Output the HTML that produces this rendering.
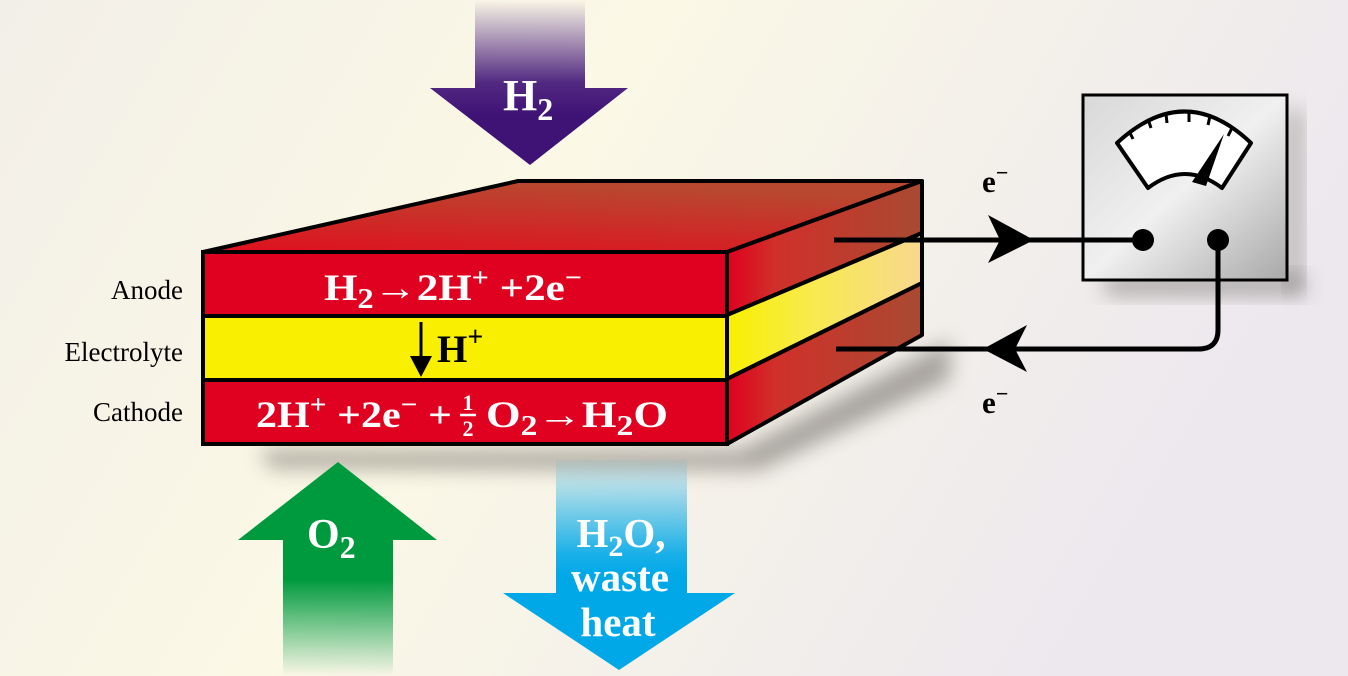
<!DOCTYPE html>
<html><head><meta charset="utf-8"><style>
html,body{margin:0;padding:0;width:1348px;height:676px;overflow:hidden}
svg{display:block}
text{font-family:"Liberation Serif",serif}
</style></head><body>
<svg width="1348" height="676" viewBox="0 0 1348 676" xmlns="http://www.w3.org/2000/svg">
<defs>
<linearGradient id="bg" x1="0" y1="0" x2="1" y2="0.3">
<stop offset="0" stop-color="#f2efe8"/><stop offset="0.45" stop-color="#fbf8e6"/><stop offset="1" stop-color="#ece8ee"/>
</linearGradient>
<linearGradient id="side" x1="0" y1="0" x2="1" y2="0">
<stop offset="0" stop-color="#e0001f"/><stop offset="0.25" stop-color="#d0302a"/><stop offset="1" stop-color="#a84a32"/>
</linearGradient>
<linearGradient id="sidey" x1="0" y1="0" x2="1" y2="0">
<stop offset="0" stop-color="#f8f000"/><stop offset="0.45" stop-color="#f8ea50"/><stop offset="1" stop-color="#f8d890"/>
</linearGradient>
<linearGradient id="top" x1="0" y1="1" x2="0.4" y2="0">
<stop offset="0" stop-color="#e0101f"/><stop offset="1" stop-color="#b84830"/>
</linearGradient>
<linearGradient id="purp" x1="0" y1="0" x2="0" y2="1">
<stop offset="0" stop-color="#3f1276" stop-opacity="0"/><stop offset="0.5" stop-color="#3f1276" stop-opacity="0.9"/><stop offset="0.7" stop-color="#3f1276"/>
</linearGradient>
<linearGradient id="grn" x1="0" y1="0" x2="0" y2="1">
<stop offset="0" stop-color="#009a3e"/><stop offset="0.55" stop-color="#009a3e"/><stop offset="1" stop-color="#009a3e" stop-opacity="0"/>
</linearGradient>
<linearGradient id="blu" x1="0" y1="0" x2="0" y2="1">
<stop offset="0" stop-color="#00a8e8" stop-opacity="0.05"/><stop offset="0.45" stop-color="#00a8e8" stop-opacity="0.9"/><stop offset="0.55" stop-color="#00a8e8"/>
</linearGradient>
<linearGradient id="meter" x1="0" y1="0" x2="1" y2="1">
<stop offset="0" stop-color="#d8d8d8"/><stop offset="0.5" stop-color="#f0f0f0"/><stop offset="1" stop-color="#a8a8a8"/>
</linearGradient>
<filter id="blur" x="-20%" y="-50%" width="140%" height="200%"><feGaussianBlur stdDeviation="10"/></filter>
</defs>
<rect width="1348" height="676" fill="url(#bg)"/>
<polygon points="260,450 740,450 950,340 950,380 760,470 270,468" fill="#6a6660" opacity="0.55" filter="url(#blur)"/>
<rect x="1105" y="275" width="200" height="20" fill="#6a6660" opacity="0.5" filter="url(#blur)"/>
<rect x="1285" y="110" width="18" height="180" fill="#6a6660" opacity="0.4" filter="url(#blur)"/>
<polygon points="475,0 585,0 585,88 628,88 530,165 430,88 475,88" fill="url(#purp)"/>
<text x="503" y="110" font-size="44" fill="#fff" font-weight="bold">H<tspan font-size="32" dy="10">2</tspan></text>
<polygon points="203,252 518,181 922,181 727,252" fill="url(#top)" stroke="#000" stroke-width="4" stroke-linejoin="round"/>
<polygon points="727,252 922,181 922,233 727,315" fill="url(#side)" stroke="#000" stroke-width="4" stroke-linejoin="round"/>
<polygon points="727,315 922,233 922,283 727,379" fill="url(#sidey)" stroke="#000" stroke-width="4" stroke-linejoin="round"/>
<polygon points="727,379 922,283 922,335 727,444" fill="url(#side)" stroke="#000" stroke-width="4" stroke-linejoin="round"/>
<rect x="203" y="252" width="524" height="64" fill="#e0001f" stroke="#000" stroke-width="4"/>
<rect x="203" y="316" width="524" height="64" fill="#f8f000" stroke="#000" stroke-width="4"/>
<rect x="203" y="380" width="524" height="64" fill="#e0001f" stroke="#000" stroke-width="4"/>
<text x="324" y="300" font-size="37" fill="#fff" font-weight="bold" textLength="258" lengthAdjust="spacingAndGlyphs">H<tspan font-size="28" dy="8">2</tspan><tspan dy="-8">→2H</tspan><tspan font-size="26" dy="-14">+</tspan><tspan dy="14"> +2e</tspan><tspan font-size="26" dy="-14">−</tspan></text>
<line x1="421" y1="322" x2="421" y2="360" stroke="#000" stroke-width="3"/>
<polygon points="410,356 432,356 421,377" fill="#000"/>
<text x="437" y="362" font-size="39" fill="#000" font-weight="bold">H<tspan font-size="28" dy="-16">+</tspan></text>
<text x="256" y="427" font-size="37" fill="#fff" font-weight="bold" textLength="196" lengthAdjust="spacingAndGlyphs">2H<tspan font-size="26" dy="-14">+</tspan><tspan dy="14"> +2e</tspan><tspan font-size="26" dy="-14">−</tspan><tspan dy="14"> +</tspan></text>
<text x="468" y="410" font-size="22" fill="#fff" font-weight="bold" text-anchor="middle">1</text>
<line x1="460" y1="415" x2="476" y2="415" stroke="#fff" stroke-width="2.5"/>
<text x="468" y="436" font-size="22" fill="#fff" font-weight="bold" text-anchor="middle">2</text>
<text x="486" y="427" font-size="37" fill="#fff" font-weight="bold" textLength="182" lengthAdjust="spacingAndGlyphs">O<tspan font-size="28" dy="8">2</tspan><tspan dy="-8">→H</tspan><tspan font-size="28" dy="8">2</tspan><tspan dy="-8">O</tspan></text>
<text x="183" y="299" font-size="27" text-anchor="end">Anode</text>
<text x="183" y="361" font-size="27" text-anchor="end">Electrolyte</text>
<text x="183" y="421" font-size="27" text-anchor="end">Cathode</text>
<polygon points="338,462 437,540 393,540 393,676 283,676 283,540 238,540" fill="url(#grn)"/>
<text x="307" y="548" font-size="42" fill="#fff" font-weight="bold">O<tspan font-size="32" dy="10">2</tspan></text>
<polygon points="556,460 687,460 687,593 735,593 619,670 503,593 556,593" fill="url(#blu)"/>
<text x="621" y="547" font-size="41" fill="#fff" font-weight="bold" text-anchor="middle">H<tspan font-size="30" dy="9">2</tspan><tspan dy="-9">O,</tspan></text>
<text x="620" y="591" font-size="41" fill="#fff" font-weight="bold" text-anchor="middle">waste</text>
<text x="618" y="636" font-size="41" fill="#fff" font-weight="bold" text-anchor="middle">heat</text>
<rect x="1083" y="95" width="204" height="185" fill="url(#meter)" stroke="#000" stroke-width="3"/>
<path d="M1117,143 Q1185,80 1251,143 L1222,188 Q1185,160 1148,188 Z" fill="#fff" stroke="#000" stroke-width="4" stroke-linejoin="round"/>
<g stroke="#000" stroke-width="3">
<line x1="1129" y1="131" x2="1133" y2="139"/><line x1="1148" y1="119" x2="1151" y2="128"/>
<line x1="1166" y1="114" x2="1167" y2="123"/><line x1="1189" y1="112" x2="1189" y2="122"/>
<line x1="1210" y1="116" x2="1208" y2="125"/><line x1="1232" y1="128" x2="1228" y2="136"/>
</g>
<polygon points="1192,182 1224,134 1206,186" fill="#000"/>
<path d="M834,240 H1143" stroke="#000" stroke-width="5" fill="none"/>
<circle cx="1143" cy="240" r="11" fill="#000"/>
<circle cx="1218" cy="240" r="11" fill="#000"/>
<path d="M1218,240 V330 Q1218,349 1198,349 H836" stroke="#000" stroke-width="5" fill="none"/>
<polygon points="1034,240 988,215 1000,240 988,263" fill="#000"/>
<polygon points="983,349 1027,325 1015,349 1027,372" fill="#000"/>
<text x="982" y="192" font-size="31" font-weight="bold">e<tspan font-size="22" dy="-12">−</tspan></text>
<text x="982" y="413" font-size="31" font-weight="bold">e<tspan font-size="22" dy="-12">−</tspan></text>
</svg>
</body></html>
